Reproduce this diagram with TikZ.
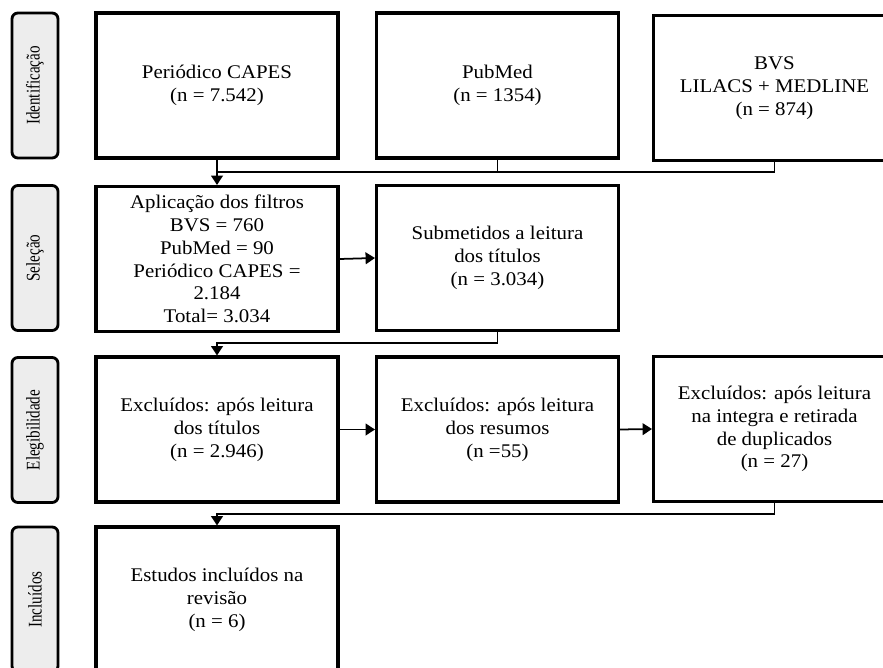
\documentclass[tikz,border=0pt]{standalone}
\usepackage{fontspec}
\setmainfont{Liberation Serif}[FakeStretch=1.08]
\newfontfamily\sidefont{Liberation Serif}[FakeStretch=0.78]
\usetikzlibrary{arrows.meta}

\begin{document}
\begin{tikzpicture}[x=0.03cm, y=-0.03cm,
    stage/.style={draw, line width=2.4pt, rounded corners=5pt, fill=black!7,
        minimum width=1.38cm, minimum height=4.35cm, inner sep=0pt,
        font=\sidefont\fontsize{16.5}{18}\selectfont},
    box/.style={draw, line width=2.6pt, minimum width=7.26cm, minimum height=4.35cm,
        align=center, inner sep=2pt, font=\fontsize{16.5}{19.5}\selectfont},
    line/.style={line width=1.5pt},
    arr/.style={line width=1.5pt, -{Triangle[length=8pt,width=10pt]}}]
    \useasboundingbox (0,0) rectangle (883,668);
    \clip (0,0) rectangle (883,668);

    % Stage labels
    \node[stage] (ident) at (35,85.5) {\rotatebox{90}{Identificação}};
    \node[stage] (selec) at (35,258) {\rotatebox{90}{Seleção}};
    \node[stage] (eleg) at (35,430) {\rotatebox{90}{Elegibilidade}};
    \node[stage] (incl) at (35,599.5) {\rotatebox{90}{Incluídos}};

    % Identificacao
    \node[box] (capes) at (217,85.5) {Periódico CAPES\\(n = 7.542)};
    \node[box] (pubmed) at (497.5,85.5) {PubMed\\(n = 1354)};
    \node[box] (bvs) at (774.5,88) {BVS\\LILACS + MEDLINE\\(n = 874)};

    % Selecao
    \node[box] (filtros) at (217,259) {Aplicação dos filtros\\BVS = 760\\PubMed = 90\\Periódico CAPES =\\2.184\\Total= 3.034};
    \node[box] (submetidos) at (497.5,258) {Submetidos a leitura\\dos títulos\\(n = 3.034)};

    % Elegibilidade
    \node[box] (exctitulos) at (217,429.5) {Excluídos: após leitura\\dos títulos\\(n = 2.946)};
    \node[box] (excresumos) at (497.5,429.5) {Excluídos: após leitura\\dos resumos\\(n =55)};
    \node[box] (excintegra) at (774.5,429) {Excluídos: após leitura\\na integra e retirada\\de duplicados\\(n = 27)};

    % Incluidos
    \node[box] (estudos) at (217,599.5) {Estudos incluídos na\\revisão\\(n = 6)};

    % Connectors
    \coordinate (j1) at (217,172);
    \coordinate (j2) at (217,343);
    \coordinate (j3) at (217,514);
    \draw[arr] (capes.south) -- (filtros.north);
    \draw[line] (pubmed.south) |- (j1);
    \draw[line] (bvs.south) |- (j1);
    \draw[arr] (filtros.east) -- (submetidos.west);
    \draw[arr] (submetidos.south) |- (j2) -- (exctitulos.north);
    \draw[arr] (exctitulos.east) -- (excresumos.west);
    \draw[arr] (excresumos.east) -- (excintegra.west);
    \draw[arr] (excintegra.south) |- (j3) -- (estudos.north);
\end{tikzpicture}
\end{document}
